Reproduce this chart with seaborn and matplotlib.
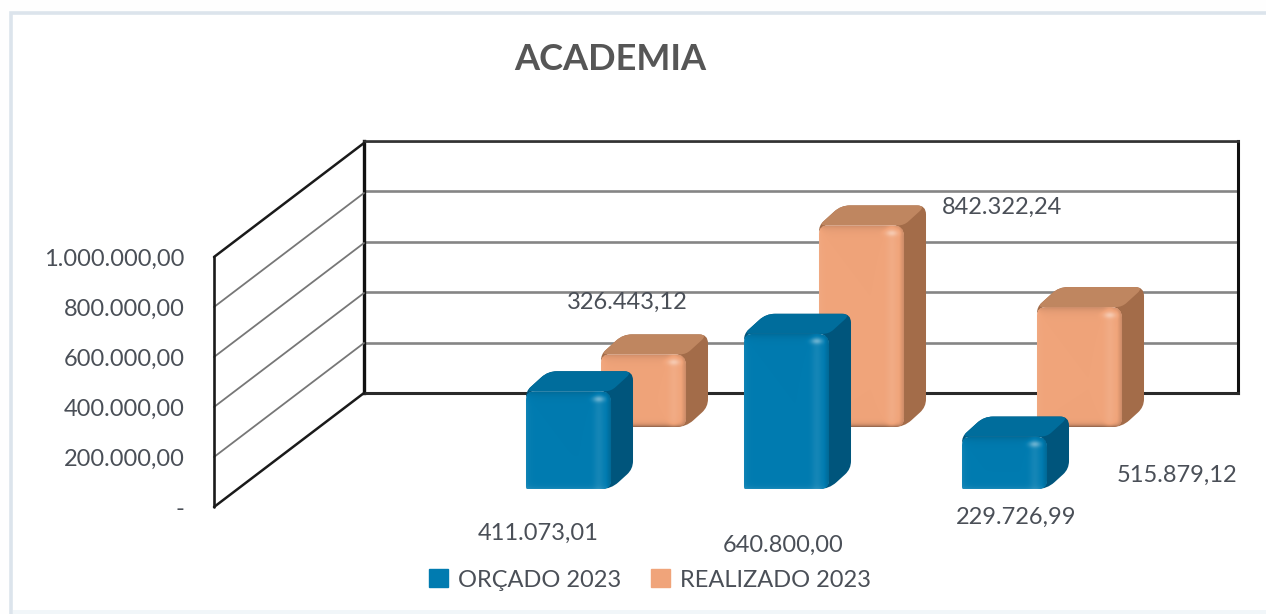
import numpy as np
import matplotlib
matplotlib.use("Agg")
import matplotlib.pyplot as plt
from matplotlib.patches import PathPatch, Patch, Rectangle
from matplotlib.path import Path
from matplotlib.transforms import IdentityTransform
from matplotlib.colors import to_rgb
import seaborn as sns

TITLE = "ACADEMIA"
CATEGORIES = ["A", "B", "C"]
ORCADO = [411073.01, 640800.00, 229726.99]
REALIZADO = [326443.12, 842322.24, 515879.12]
SERIES_NAMES = ["ORÇADO 2023", "REALIZADO 2023"]
AXIS_TICKS = [0, 200000, 400000, 600000, 800000, 1000000]

BLUE = "#007BB0"
ORANGE = "#F0A47A"
TEXT = "#4A4F57"

W, H = 1266, 614
sns.set_theme(style="white")
plt.rcParams["font.family"] = ["Lato", "DejaVu Sans"]


def br(v):
    if v == 0:
        return "-"
    return f"{v:,.2f}".replace(",", "X").replace(".", ",").replace("X", ".")


fig = plt.figure(figsize=(W / 100, H / 100), dpi=100, facecolor="#FEFEFE")


def axes_px(x0, x1, y_top, y_bot, z):
    ax = fig.add_axes([x0 / W, 1 - y_bot / H, (x1 - x0) / W, (y_bot - y_top) / H])
    ax.set_zorder(z)
    ax.patch.set_visible(False)
    return ax


# chart frame
fig.add_artist(Rectangle((11 / W, -0.01), 1.1, (614 - 13) / H + 0.01, transform=fig.transFigure,
                         facecolor="white", edgecolor="#DCE4EC", linewidth=2.6))
fig.add_artist(Rectangle((13 / W, 0), 1, 4 / H, transform=fig.transFigure,
                         facecolor="#F1F6F9", edgecolor="none"))

PX_PER_UNIT = 250 / 1e6  # pixels per currency unit on the vertical scale

# back wall
wall = axes_px(364, 1238, 141, 393, 1)
wall.set_ylim(0, 1e6)
wall.set_xlim(0, 1)
wall.set_yticks(AXIS_TICKS)
wall.set_xticks([])
wall.tick_params(length=0, labelleft=False)
wall.grid(axis="y", color="#858585", linewidth=1.9)
for name, c, lw in [("left", "#111111", 2.4), ("right", "#111111", 2.2),
                    ("top", "#333333", 1.9), ("bottom", "#2A2A2A", 2.2)]:
    wall.spines[name].set_visible(True)
    wall.spines[name].set_color(c)
    wall.spines[name].set_linewidth(lw)

# side wall with the value axis
side = axes_px(214, 364, 141, 507, 2)
rise = 114 / PX_PER_UNIT
side.set_xlim(0, 1)
side.set_ylim(0, 366 / PX_PER_UNIT)
for v in AXIS_TICKS:
    edge = v in (AXIS_TICKS[0], AXIS_TICKS[-1])
    side.plot([0, 1], [v, v + rise], color="#1A1A1A" if edge else "#777777",
              lw=1.8 if edge else 1.3, clip_on=False, solid_capstyle="round")
side.plot([0, 0], [0, 1e6], color="#1A1A1A", lw=1.9, clip_on=False)
side.set_yticks(AXIS_TICKS)
side.set_yticklabels([br(v) for v in AXIS_TICKS], fontsize=17, color=TEXT)
side.set_xticks([])
side.tick_params(axis="y", length=0, pad=21)
for s in side.spines.values():
    s.set_visible(False)
side.grid(False)


def rounded(points, radii):
    n = len(points)
    verts, codes = [], []
    pts = [np.array(p, float) for p in points]
    for i, p in enumerate(pts):
        a, b = pts[i - 1], pts[(i + 1) % n]
        r = radii[i]
        da = (a - p) / max(np.linalg.norm(a - p), 1e-6)
        db = (b - p) / max(np.linalg.norm(b - p), 1e-6)
        start, end = p + da * r, p + db * r
        verts.append(start)
        codes.append(Path.MOVETO if i == 0 else Path.LINETO)
        verts += [p, end]
        codes += [Path.CURVE3, Path.CURVE3]
    verts.append(verts[0])
    codes.append(Path.CLOSEPOLY)
    return Path(verts, codes)


def mix(col, f):
    col = np.asarray(col)
    f = np.asarray(f)[..., None]
    return np.where(f >= 0, col + (1 - col) * f, col * (1 + f))


DX, DY = 22, 20


def dress_bars(ax, base, top_col, side_col, bottom_f):
    rgb = to_rgb(base)
    ax.autoscale(False)
    for bar in list(ax.patches):
        x0, w, h = bar.get_x(), bar.get_width(), bar.get_height()
        (L, B) = ax.transData.transform((x0, ax.get_ylim()[0]))
        (R, T) = ax.transData.transform((x0 + w, h))
        idt = IdentityTransform()
        z = 2
        body = [(L, T), (L + DX, T + DY), (R + DX, T + DY), (R + DX, B + DY), (R, B), (L, B)]
        ax.add_patch(PathPatch(rounded(body, [6, 9, 9, 8, 10, 2]), transform=idt,
                               facecolor=side_col, edgecolor="none", zorder=z, clip_on=False))
        top = [(L, T), (L + DX, T + DY), (R + DX, T + DY), (R, T)]
        ax.add_patch(PathPatch(rounded(top, [6, 9, 9, 6]), transform=idt,
                               facecolor=top_col, edgecolor="none", zorder=z + 0.1, clip_on=False))
        front = PathPatch(rounded([(L, T), (R, T), (R, B), (L, B)], [9, 11, 9, 2]), transform=idt,
                          facecolor="none", edgecolor="none", zorder=z + 0.2)
        ax.add_patch(front)
        bar.set_zorder(z + 0.2)
        bar.set_clip_path(front)
        nx, ny = int(R - L), int(T - B)
        xs = np.arange(nx)[None, :] + 0.5
        t = np.arange(ny)[:, None] + 0.5
        fx = 0.07 * np.exp(-xs / 3) + 0.08 * np.exp(-((xs - (nx - 13)) / 5) ** 2) \
            - 0.18 * np.clip((xs - (nx - 6)) / 6, 0, 1)
        fy = -0.16 * np.exp(-t / 4) + bottom_f * np.exp(-(ny - t) / 2)
        blob = 0.35 * np.exp(-(((xs - (nx - 13)) / 6) ** 2 + ((t - 8) / 3) ** 2))
        arr = np.clip(mix(rgb, fx + fy + blob), 0, 1)
        im = ax.imshow(arr, extent=(L, R, B, T), origin="upper", aspect="auto",
                       transform=idt, zorder=z + 0.3, interpolation="bilinear")
        im.set_clip_box(fig.bbox)
        im.set_clip_path(front)


def bar_axes(values, color, x_center0, base_py, zero_py, z, top_col, side_col, bottom_f):
    span = 218
    x0 = x_center0 - span / 2
    ax = axes_px(x0, x0 + 3 * span, 141, base_py, z)
    sns.barplot(x=CATEGORIES, y=values, color=color, saturation=1, width=0.39, ax=ax)
    ax.set_xlim(-0.5, 2.5)
    ax.set_ylim((zero_py - base_py) / PX_PER_UNIT, (zero_py - 141) / PX_PER_UNIT)
    ax.axis("off")
    dress_bars(ax, color, top_col, side_col, bottom_f)
    return ax


bar_axes(REALIZADO, ORANGE, 643.5, 427, 436, 3, "#BF8660", "#A36C49", -0.45)
bar_axes(ORCADO, BLUE, 568.5, 489, 494, 4, "#006D9C", "#00557C", 0.12)

# text: title, data labels, legend
fig.text(610 / W, 1 - 59 / H, TITLE, ha="center", va="center", fontsize=26,
         fontweight="bold", color="#565656", zorder=10)

LABEL_PX = {"o": [(538, 533), (783, 545), (1016, 517)],
            "r": [(627, 302), (1002, 207), (1177, 475)]}
for vals, key in [(ORCADO, "o"), (REALIZADO, "r")]:
    for v, (px, py) in zip(vals, LABEL_PX[key]):
        fig.text(px / W, 1 - py / H, br(v), ha="center", va="center", fontsize=17,
                 color=TEXT, zorder=10)

leg = fig.legend(handles=[Patch(color=BLUE), Patch(color=ORANGE)], labels=SERIES_NAMES,
                 ncol=2, loc="center", bbox_to_anchor=(650 / W, 1 - 580 / H), frameon=False,
                 fontsize=17, handlelength=0.8, handleheight=0.8, handletextpad=0.4,
                 columnspacing=1.3, labelcolor=TEXT)
leg.set_zorder(10)

fig.savefig("out.png", dpi=100)
